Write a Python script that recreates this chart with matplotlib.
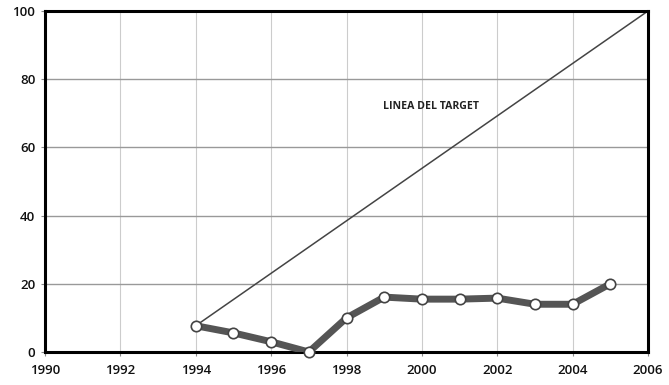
import matplotlib
matplotlib.use('Agg')
import matplotlib.pyplot as plt

plt.rcParams['font.family'] = ['Open Sans', 'DejaVu Sans']

years = [1994, 1995, 1996, 1997, 1998, 1999, 2000, 2001, 2002, 2003, 2004, 2005]
values = [7.7, 5.6, 3.0, 0.0, 10.0, 16.1, 15.5, 15.5, 15.8, 14.0, 14.0, 20.0]
target_x = [1994, 2006]
target_y = [7.7, 100]

fig = plt.figure(figsize=(6.69, 3.85), dpi=100)
ax = fig.add_axes([45 / 669, 1 - 352 / 385, 603 / 669, 341 / 385])

ax.plot(target_x, target_y, color='#444444', linewidth=1.1, zorder=2)
ax.plot(years, values, color='#555555', linewidth=5, solid_joinstyle='round',
        solid_capstyle='round', zorder=3)
ax.plot(years, values, linestyle='none', marker='o', markersize=7.5,
        markerfacecolor='white', markeredgecolor='#444444', markeredgewidth=1.2,
        zorder=4, clip_on=False)

ax.text(2000.25, 72, 'LINEA DEL TARGET', fontsize=7.6, fontweight='bold',
        ha='center', va='center', color='#222222')

ax.set_xlim(1990, 2006)
ax.set_ylim(0, 100)
ax.set_xticks(range(1990, 2007, 2))
ax.set_yticks(range(0, 101, 20))

ax.grid(axis='y', color='#999999', linewidth=1.0)
ax.grid(axis='x', color='#cccccc', linewidth=0.8)
ax.set_axisbelow(True)

for s in ax.spines.values():
    s.set_linewidth(2.2)
    s.set_color('black')

ax.tick_params(axis='both', length=3, width=0.8, color='#888888',
               labelsize=9.5, labelcolor='#111111')
for lbl in ax.get_xticklabels() + ax.get_yticklabels():
    lbl.set_fontweight('semibold')
ax.tick_params(axis='x', pad=6)
ax.tick_params(axis='y', pad=4)

fig.savefig('out.png', dpi=100)
